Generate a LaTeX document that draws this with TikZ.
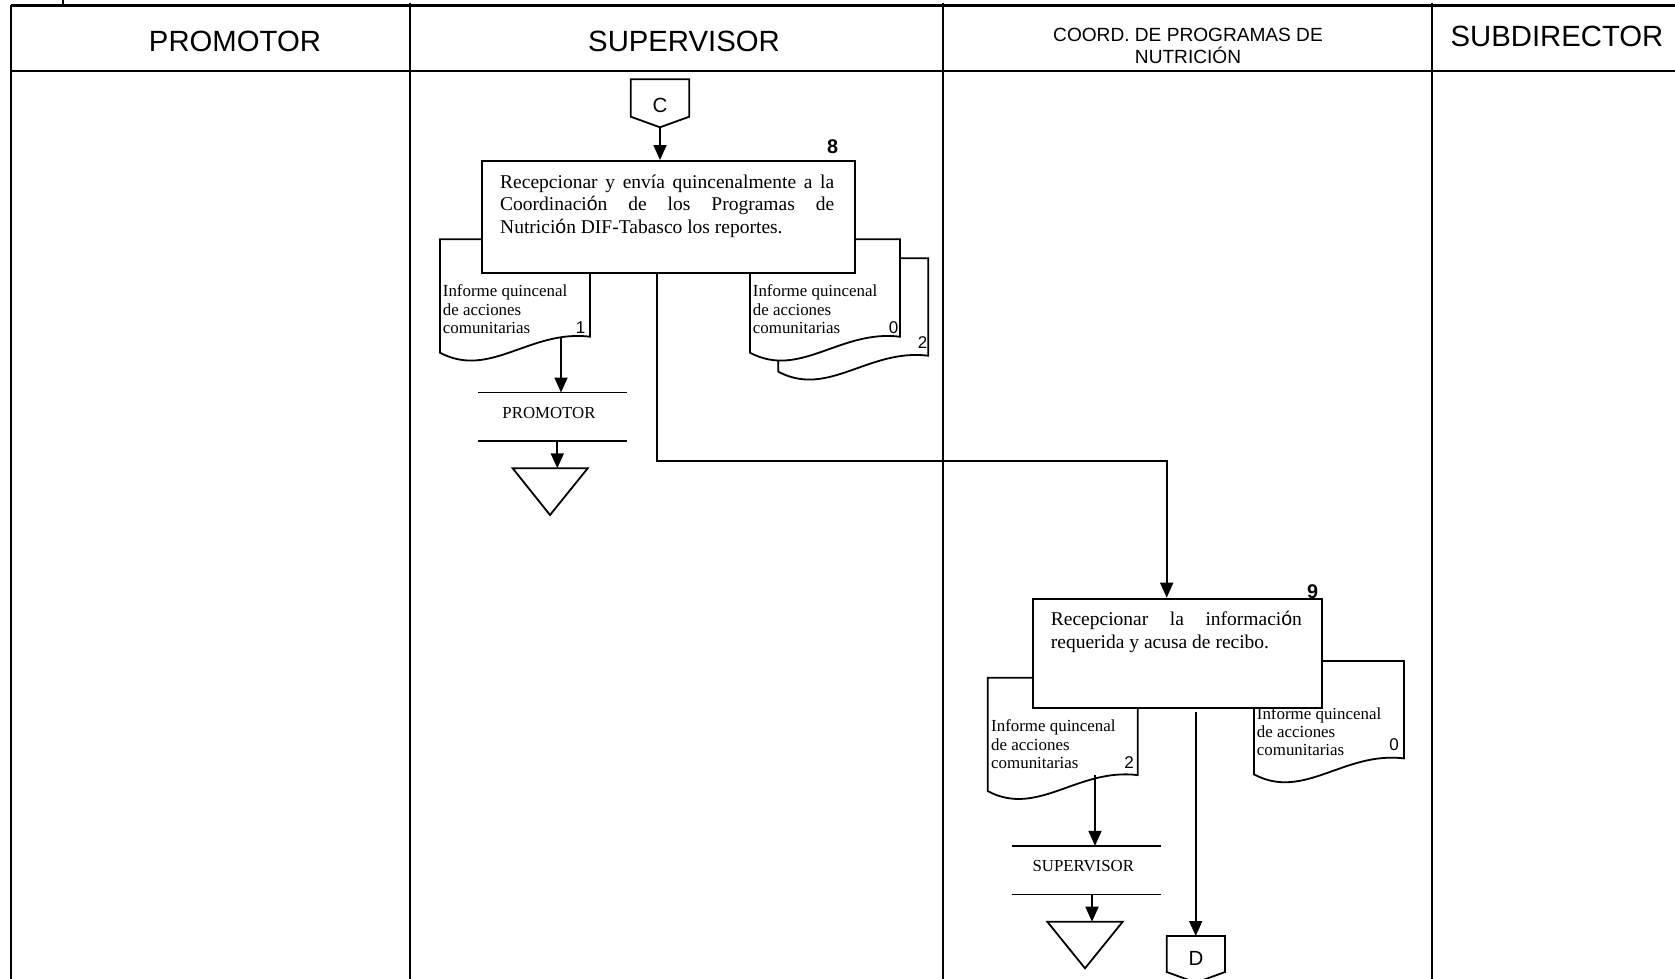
\documentclass[tikz,border=0pt]{standalone}
\usepackage{fontspec}
\setmainfont{Liberation Serif}
\newfontfamily\arialf{Liberation Sans}
\usetikzlibrary{arrows.meta}

\begin{document}
\begin{tikzpicture}[x=1pt,y=-1pt,
  tbl/.style={line width=2.1pt},
  wire/.style={line width=1.8pt},
  flow/.style={wire,-{Triangle[width=13pt,length=15pt]}},
  shp/.style={line width=1.8pt,fill=white},
  hdr/.style={font=\arialf\fontsize{29.3}{34}\selectfont,inner sep=0},
  hdrsmall/.style={font=\arialf\fontsize{19.1}{22}\selectfont,inner sep=0},
  stepnum/.style={font=\arialf\bfseries\fontsize{19.8}{22}\selectfont,inner sep=0},
  docnum/.style={font=\arialf\fontsize{17}{19}\selectfont,inner sep=0},
  conlbl/.style={font=\arialf\fontsize{20.5}{22}\selectfont,inner sep=0},
  archlbl/.style={font=\fontsize{16.8}{18}\selectfont,inner sep=0},
  plaintxt/.style={inner sep=0},
  procbox/.style={draw,line width=2pt,fill=white,inner sep=0,anchor=north west},
  archbox/.style={minimum width=148.4pt,minimum height=48.3pt,inner sep=0},
  docsheet/.pic={
    \draw[shp] (0,0) -- (150,0) -- (150,97.4)
      .. controls (90,90) and (50,140) .. (0,113.4) -- cycle;
  },
]
\useasboundingbox (0,0) rectangle (1675,979);
\clip (0,0) rectangle (1675,979);

% swimlane grid
\draw[tbl] (10.7,5.5) -- (1675,5.5);
\draw[tbl] (63,0) -- (63,5.5);
\draw[tbl] (10.7,70.7) -- (1675,70.7);
\draw[tbl] (10.7,5.5) -- (10.7,979);
\draw[tbl] (410.3,3) -- (410.3,979);
\draw[tbl] (943.4,3) -- (943.4,979);
\draw[tbl] (1431.6,3) -- (1431.6,979);

% lane headers
\node[hdr,anchor=base] (hpro) at (235,52) {PROMOTOR};
\node[hdr,anchor=base] (hsup) at (684,52) {SUPERVISOR};
\node[hdrsmall,anchor=base] (hcoordA) at (1188,41.5) {COORD. DE PROGRAMAS DE};
\node[hdrsmall,anchor=base] (hcoordB) at (1188,64) {NUTRICIÓN};
\node[hdr,anchor=base] (hsub) at (1557,47) {SUBDIRECTOR};

% off-page connector C
\draw[shp] (630.7,79.3) -- (689.3,79.3) -- (689.3,116.7) -- (660,127.3) -- (630.7,116.7) -- cycle;
\node[conlbl] (cC) at (660,105.8) {C};
\coordinate (Cbot) at (660,127.3);

% documents issued by step 8
\pic (doc8back) at (778.3,258.3) {docsheet};
\pic (doc8left) at (440,239.3) {docsheet};
\pic (doc8right) at (750,239.3) {docsheet};
\node[plaintxt,anchor=base west] (t8l) at (442.7,296.7)
  {\parbox[t]{140pt}{\fontsize{16.9}{18.3}\selectfont Informe quincenal\par de acciones\par comunitarias}};
\node[plaintxt,anchor=base west] (t8r) at (752.7,296.7)
  {\parbox[t]{140pt}{\fontsize{16.9}{18.3}\selectfont Informe quincenal\par de acciones\par comunitarias}};
\node[docnum,anchor=base east] (n8l) at (585.5,333) {1};
\node[docnum,anchor=base east] (n8r) at (898.5,333) {0};
\node[docnum,anchor=base east] (n8b) at (927.5,348.3) {2};

% step 8
\node[procbox,minimum width=373.3pt,minimum height=112.3pt] (b8) at (480.7,160) {};
\node[plaintxt,anchor=base west] (b8txt) at (500,188)
  {\parbox[t]{334pt}{\fontsize{19.5}{22.6}\selectfont
   \makebox[334pt][s]{Recepcionar y envía quincenalmente a la}\par
   \makebox[334pt][s]{Coordinaci{\arialf ó}n de los Programas de}\par
   Nutrici{\arialf ó}n DIF-Tabasco los reportes.}};
\node[stepnum,anchor=base] (s8) at (832.7,153.3) {8};

\draw[flow] (Cbot) -- (b8.north -| Cbot);

% copy returned to the promotor
\node[archbox] (arch1) at (552.5,416.85) {};
\draw[wire] (arch1.north west) -- (arch1.north east) (arch1.south west) -- (arch1.south east);
\node[archlbl,anchor=base] (la1) at (549,418.3) {PROMOTOR};
\coordinate (d1out) at (561,336.7);
\draw[flow] (d1out) -- (d1out |- arch1.north);
\coordinate (tri1) at (550,468.3);
\draw[wire] (512.7,468.3) -- (587.7,468.3) -- (550,515) -- cycle;
\coordinate (a1x) at (557.3,441);
\draw[flow] (a1x) -- (a1x |- tri1);

% documents received in step 9
\pic (doc9left) at (987.7,677.7) {docsheet};
\pic (doc9right) at (1254,661) {docsheet};
\node[plaintxt,anchor=base west] (t9l) at (991,731.7)
  {\parbox[t]{140pt}{\fontsize{16.9}{18.3}\selectfont Informe quincenal\par de acciones\par comunitarias}};
\node[plaintxt,anchor=base west] (t9r) at (1256.7,719.3)
  {\parbox[t]{140pt}{\fontsize{16.9}{18.3}\selectfont Informe quincenal\par de acciones\par comunitarias}};
\node[docnum,anchor=base east] (n9l) at (1134,768) {2};
\node[docnum,anchor=base east] (n9r) at (1399,750) {0};

% step 9
\node[procbox,minimum width=288.7pt,minimum height=109.6pt] (b9) at (1032.3,597.7) {};
\node[plaintxt,anchor=base west] (b9txt) at (1050.7,625.7)
  {\parbox[t]{251pt}{\fontsize{19.5}{22.6}\selectfont
   \makebox[251pt][s]{Recepcionar la informaci{\arialf ó}n}\par
   requerida y acusa de recibo.}};
\node[stepnum,anchor=base] (s9) at (1312.5,598.3) {9};

% step 8 to step 9
\coordinate (b8out) at (656.7,272.3);
\coordinate (b9in) at (1166.7,597.7);
\draw[flow] (b8out) -- ++(0,188.7) -| (b9in);

% copy returned to the supervisor
\node[archbox] (arch2) at (1086.5,870.15) {};
\draw[wire] (arch2.north west) -- (arch2.north east) (arch2.south west) -- (arch2.south east);
\node[archlbl,anchor=base] (la2) at (1083.3,871) {SUPERVISOR};
\coordinate (d2out) at (1095,775);
\draw[flow] (d2out) -- (d2out |- arch2.north);
\coordinate (tri2) at (1085,921.7);
\draw[wire] (1047.3,921.7) -- (1122.7,921.7) -- (1085,968.3) -- cycle;
\coordinate (a2x) at (1092,894.3);
\draw[flow] (a2x) -- (a2x |- tri2);

% off-page connector D
\draw[shp] (1166.7,936) -- (1225,936) -- (1225,972) -- (1195.9,982.6) -- (1166.7,972) -- cycle;
\node[conlbl] (cD) at (1195.9,958.3) {D};
\coordinate (Dtop) at (1195.7,936);
\coordinate (b9out) at (1195.7,711.7);
\draw[flow] (b9out) -- (Dtop);

\end{tikzpicture}
\end{document}
